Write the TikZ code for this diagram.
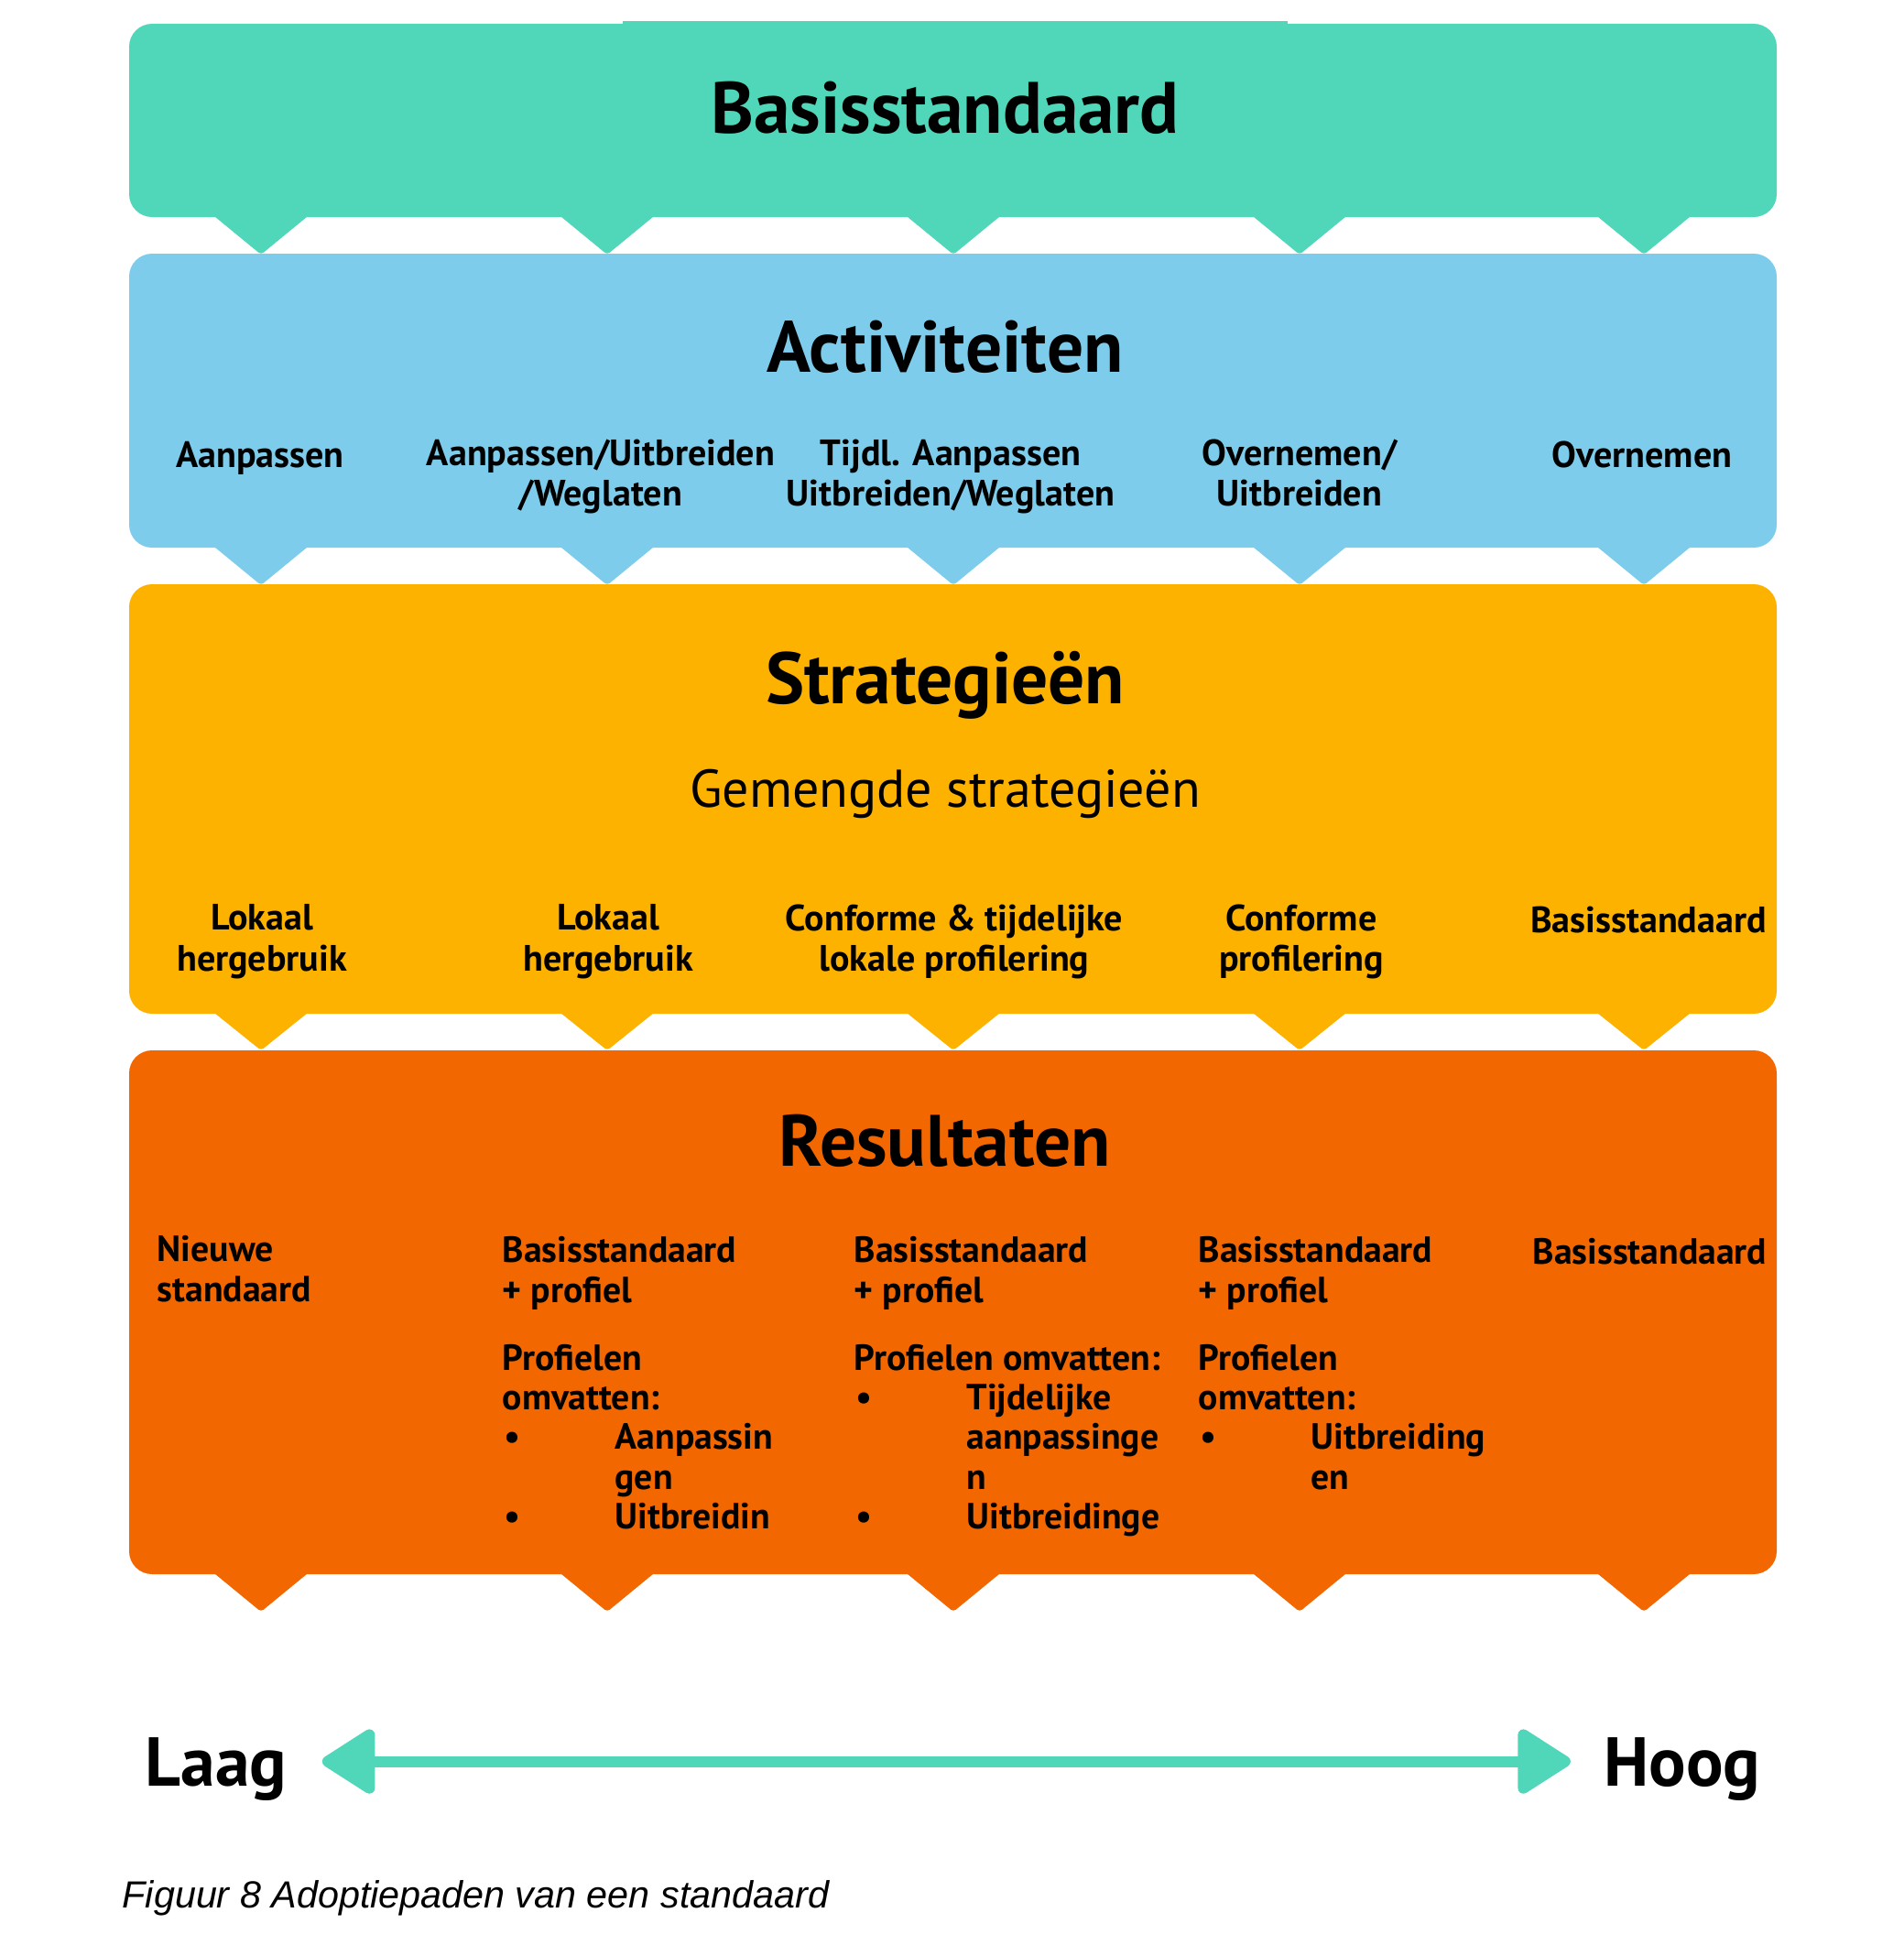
\documentclass[tikz,border=0pt]{standalone}
\usepackage{fontspec}
\setmainfont{PT Sans}
\newfontfamily\bijschriftfont{Liberation Sans}
\usepackage{xcolor}
\usetikzlibrary{arrows.meta,positioning}

\definecolor{basisgroen}{HTML}{50D6B8}
\definecolor{activiteitblauw}{HTML}{7ECCEB}
\definecolor{strategiegeel}{HTML}{FDB200}
\definecolor{resultaatoranje}{HTML}{F26700}

\newcommand{\opsom}{\makebox[1.23cm][l]{\hspace{0.02cm}•}}
\newcommand{\inspring}{\hspace*{1.23cm}}

\begin{document}
\begin{tikzpicture}[
    laagtitel/.style={font=\fontsize{22.6}{26}\selectfont\bfseries, inner sep=0pt, anchor=base},
    kolomtekst/.style={font=\fontsize{11.4}{12.7}\selectfont\bfseries, align=center, inner sep=0pt, anchor=north, execute at begin node=\strut},
    restekst/.style={font=\fontsize{11.3}{12.3}\selectfont\bfseries, align=left, inner sep=0pt, anchor=north west, execute at begin node=\strut},
    schaal/.style={font=\fontsize{21.5}{24}\selectfont\bfseries, inner sep=0pt, anchor=base, text depth=0pt},
]
\useasboundingbox (0,0) rectangle (20.79,-21.36);

% de vier lagen met hun punten
\foreach \kleur/\boven/\onder/\punt in {
        basisgroen/0.26/2.37/2.78,
        activiteitblauw/2.77/5.98/6.39,
        strategiegeel/6.38/11.07/11.47,
        resultaatoranje/11.47/17.19/17.60} {
    \fill[
        \kleur,
        rounded corners=0.25cm
        ] (1.41,-\boven) rectangle (19.40,-\onder);
    \foreach \x in {2.85,6.63,10.41,14.19,17.95} {
        \fill[
            \kleur,
            rounded corners=1pt
            ] (\x-0.56,-\onder+0.05) -- (\x+0.56,-\onder+0.05) -- (\x,-\punt) -- cycle;
    }
}
\fill[basisgroen] (6.80,-0.23) rectangle (14.06,-0.6);

% titels
\node[laagtitel] (basis) at (10.32,-1.45) {Basisstandaard};
\node[laagtitel] (activiteiten) at (10.32,-4.06) {Activiteiten};
\node[laagtitel] (strategieen) at (10.32,-7.68) {Strategieën};
\node[font=\fontsize{16.5}{20}\selectfont, inner sep=0pt, anchor=base] (gemengd) at (10.32,-8.81) {Gemengde strategieën};
\node[laagtitel] (resultaten) at (10.32,-12.73) {Resultaten};

% activiteiten
\node[kolomtekst] (act1) at (2.84,-4.79) {Aanpassen};
\node[kolomtekst] (act2) at (6.56,-4.79) {Aanpassen/Uitbreiden\\/Weglaten};
\node[kolomtekst] (act3) at (10.38,-4.79) {Tijdl. Aanpassen\\Uitbreiden/Weglaten};
\node[kolomtekst] (act4) at (14.19,-4.79) {Overnemen/\\Uitbreiden};
\node[kolomtekst] (act5) at (17.93,-4.79) {Overnemen};

% strategieen
\node[kolomtekst] (str1) at (2.86,-9.87) {Lokaal\\hergebruik};
\node[kolomtekst] (str2) at (6.64,-9.87) {Lokaal\\hergebruik};
\node[kolomtekst] (str3) at (10.42,-9.87) {Conforme \& tijdelijke\\lokale profilering};
\node[kolomtekst] (str4) at (14.21,-9.87) {Conforme\\profilering};
\node[kolomtekst] (str5) at (18.00,-9.87) {Basisstandaard};

% resultaten
\node[restekst] (res1) at (1.71,-13.49) {Nieuwe\\standaard};
\node[restekst] (res2) at (5.48,-13.50) {Basisstandaard\\+ profiel\\[0.31cm]Profielen\\omvatten:\\\opsom Aanpassin\\\inspring gen\\\opsom Uitbreidin};
\node[restekst] (res3) at (9.32,-13.50) {Basisstandaard\\+ profiel\\[0.31cm]Profielen omvatten:\\\opsom Tijdelijke\\\inspring aanpassinge\\\inspring n\\\opsom Uitbreidinge};
\node[restekst] (res4) at (13.08,-13.50) {Basisstandaard\\+ profiel\\[0.31cm]Profielen\\omvatten:\\\opsom Uitbreiding\\\inspring en};
\node[restekst] (res5) at (16.73,-13.50) {Basisstandaard};

% schaal laag - hoog
\node[schaal] (laag) at (2.36,-19.50) {Laag};
\node[schaal] (hoog) at (18.37,-19.50) {Hoog};
\draw[
    {Triangle[length=0.63cm,width=0.77cm,round]}-{Triangle[length=0.63cm,width=0.77cm,round]},
    basisgroen,
    line width=0.12cm,
    shorten <=0.38cm,
    shorten >=0.36cm
    ] (laag.east) -- (hoog.west);

\node[font=\bijschriftfont\itshape\fontsize{11.75}{14}\selectfont, inner sep=0pt, anchor=base west] (bijschrift) at (1.33,-20.83) {Figuur 8 Adoptiepaden van een standaard};
\end{tikzpicture}
\end{document}
